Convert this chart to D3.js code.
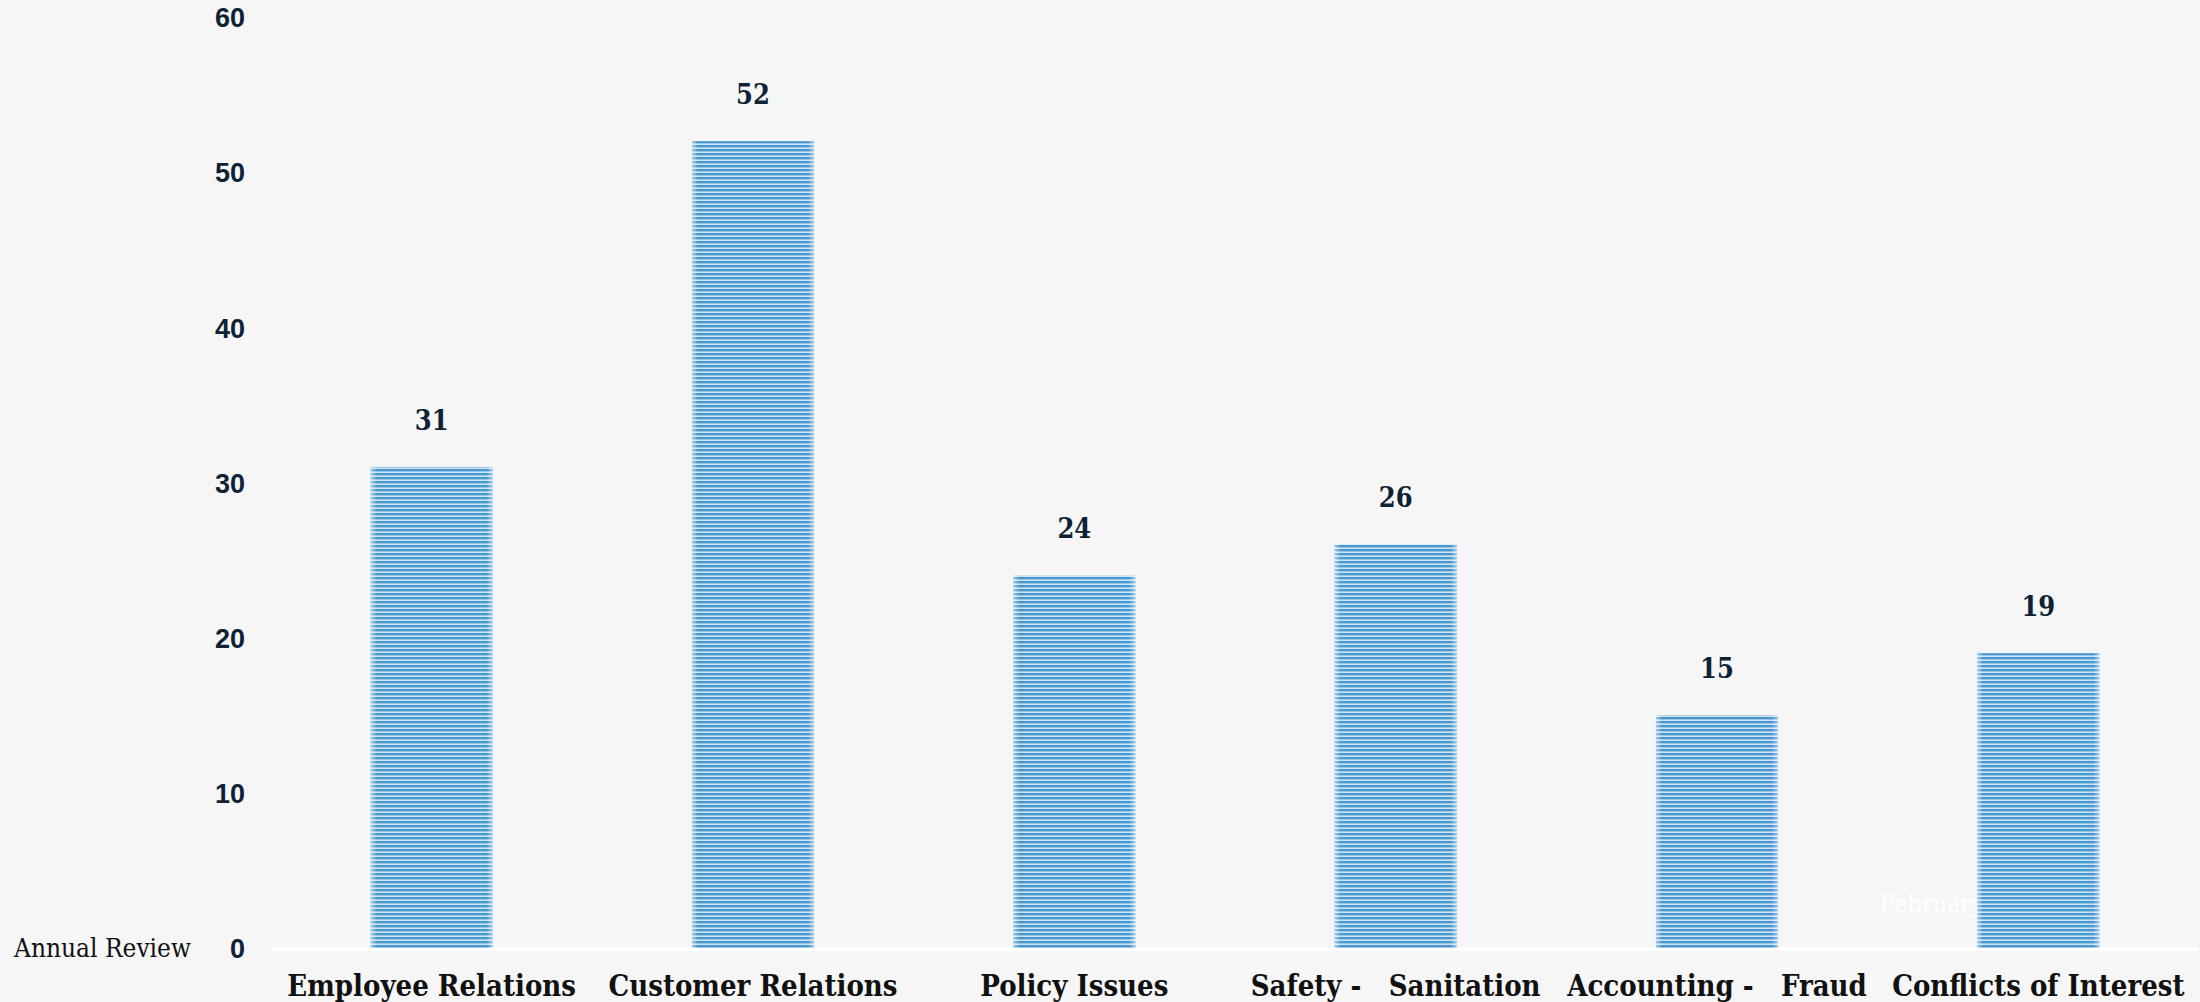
<!DOCTYPE html>
<html>
<head>
<meta charset="utf-8">
<script src="https://cdn.jsdelivr.net/npm/d3@7"></script>
<style>
  html, body { margin: 0; padding: 0; background: #f6f6f6; }
  svg { display: block; }
</style>
</head>
<body>
<svg id="chart"></svg>
<script>
// data
const categories = ["Employee Relations", "Customer Relations", "Policy Issues",
                    "Safety -   Sanitation", "Accounting -   Fraud", "Conflicts of Interest"];
const values = [31, 52, 24, 26, 15, 19];
const yTicks = [0, 10, 20, 30, 40, 50, 60];

const width = 2200;
const height = 1002;
const margin = { top: 17, right: 2, bottom: 54, left: 272 };

const svg = d3.select("#chart")
    .attr("width", width)
    .attr("height", height);

svg.append("rect")
    .attr("width", width)
    .attr("height", height)
    .attr("fill", "#f6f6f6");

// striped fill for the bars
const defs = svg.append("defs");
const pat = defs.append("pattern")
    .attr("id", "stripes")
    .attr("patternUnits", "userSpaceOnUse")
    .attr("width", 8)
    .attr("height", 4);
pat.append("rect").attr("width", 8).attr("height", 4).attr("fill", "#cfe4f3");
pat.append("rect").attr("y", 1).attr("width", 8).attr("height", 2.4).attr("fill", "#4798cf");

const edge = defs.append("linearGradient")
    .attr("id", "edge")
    .attr("x1", "0%").attr("x2", "100%");
[[0, 0.5], [0.05, 0], [0.95, 0], [1, 0.5]].forEach(([o, a]) => {
    edge.append("stop").attr("offset", o).attr("stop-color", "#ffffff").attr("stop-opacity", a);
});

const x = d3.scaleBand()
    .domain(categories)
    .range([271, 2199])
    .paddingInner(0.62)
    .paddingOuter(0.31);

const y = d3.scaleLinear()
    .domain([0, 60])
    .range([height - margin.bottom, margin.top]);

// y tick labels (no axis line)
const yAxis = svg.append("g")
    .attr("transform", "translate(245,0)")
    .call(d3.axisLeft(y).tickValues(yTicks).tickSize(0).tickPadding(0));
yAxis.select(".domain").remove();
yAxis.selectAll("text")
    .attr("font-family", "'Liberation Sans', Arial, sans-serif")
    .attr("font-weight", "bold")
    .attr("font-size", 27)
    .attr("fill", "#0e2235")
    .attr("dy", "0.36em");

// stray labels
svg.append("text")
    .attr("x", 14)
    .attr("y", y(0))
    .attr("dy", "0.35em")
    .attr("font-family", "'DejaVu Serif Condensed', 'DejaVu Serif', serif")
    .attr("font-size", 26)
    .attr("fill", "#111")
    .text("Annual Review");

svg.append("text")
    .attr("x", 1880)
    .attr("y", 903)
    .attr("dy", "0.35em")
    .attr("font-family", "'DejaVu Serif Condensed', 'DejaVu Serif', serif")
    .attr("font-size", 25)
    .attr("fill", "#ffffff")
    .text("February");

// baseline
svg.append("line")
    .attr("x1", 272).attr("x2", 2198)
    .attr("y1", y(0) + 1).attr("y2", y(0) + 1)
    .attr("stroke", "#ffffff")
    .attr("stroke-width", 4);

// bars
const bars = svg.append("g");
bars.selectAll("rect.bar")
    .data(values)
    .join("rect")
    .attr("class", "bar")
    .attr("x", (d, i) => x(categories[i]))
    .attr("y", d => y(d))
    .attr("width", x.bandwidth())
    .attr("height", d => y(0) - y(d))
    .attr("fill", "url(#stripes)");
bars.selectAll("rect.edge")
    .data(values)
    .join("rect")
    .attr("class", "edge")
    .attr("x", (d, i) => x(categories[i]))
    .attr("y", d => y(d))
    .attr("width", x.bandwidth())
    .attr("height", d => y(0) - y(d))
    .attr("fill", "url(#edge)");

// value labels
svg.append("g")
    .selectAll("text")
    .data(values)
    .join("text")
    .attr("x", (d, i) => x(categories[i]) + x.bandwidth() / 2)
    .attr("y", d => y(d) - 47)
    .attr("dy", "0.36em")
    .attr("text-anchor", "middle")
    .attr("font-family", "'DejaVu Serif Condensed', 'DejaVu Serif', serif")
    .attr("font-weight", "bold")
    .attr("font-size", 27)
    .attr("fill", "#0e2235")
    .text(d => d);

// category labels
svg.append("g")
    .selectAll("text")
    .data(categories)
    .join("text")
    .attr("x", d => x(d) + x.bandwidth() / 2)
    .attr("y", 986)
    .attr("dy", "0.35em")
    .attr("text-anchor", "middle")
    .attr("font-family", "'DejaVu Serif Condensed', 'DejaVu Serif', serif")
    .attr("font-weight", "bold")
    .attr("font-size", 29)
    .attr("fill", "#111")
    .style("white-space", "pre")
    .text(d => d);
</script>
</body>
</html>
